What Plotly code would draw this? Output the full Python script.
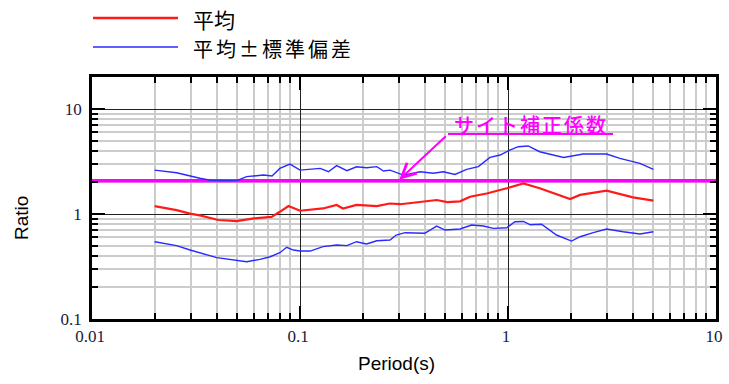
import math
import plotly.graph_objects as go

# ---- data ----
mean_period = [0.02, 0.0255, 0.0296, 0.033, 0.0405, 0.0496, 0.06, 0.073, 0.080, 0.088,
               0.1, 0.115, 0.129, 0.15, 0.161, 0.187, 0.234, 0.27, 0.303, 0.351,
               0.454, 0.51, 0.588, 0.657, 0.79, 0.986, 1.186, 1.42, 1.99, 2.22,
               2.98, 3.99, 5.0]
mean_ratio = [1.19, 1.09, 1.01, 0.97, 0.877, 0.857, 0.91, 0.94, 1.05, 1.19,
              1.075, 1.1, 1.13, 1.22, 1.13, 1.22, 1.19, 1.26, 1.24, 1.28,
              1.36, 1.30, 1.32, 1.46, 1.57, 1.76, 1.96, 1.76, 1.39, 1.52,
              1.67, 1.44, 1.34]

upper_period = [0.02, 0.0255, 0.033, 0.037, 0.045, 0.05, 0.0554, 0.0667, 0.0734, 0.080,
                0.0895, 0.1, 0.125, 0.137, 0.15, 0.168, 0.187, 0.209, 0.234, 0.252,
                0.271, 0.314, 0.378, 0.437, 0.489, 0.556, 0.633, 0.72, 0.819, 0.916,
                1.02, 1.12, 1.25, 1.42, 1.85, 2.3, 2.98, 3.45, 4.31, 5.0]
upper_ratio = [2.62, 2.47, 2.19, 2.1, 2.08, 2.09, 2.27, 2.35, 2.30, 2.72,
               2.99, 2.62, 2.72, 2.53, 2.89, 2.59, 2.82, 2.76, 2.83, 2.57,
               2.62, 2.35, 2.53, 2.45, 2.53, 2.38, 2.66, 2.83, 3.46, 3.65,
               4.07, 4.38, 4.45, 3.92, 3.46, 3.73, 3.73, 3.39, 3.04, 2.66]

lower_period = [0.02, 0.0255, 0.0296, 0.0398, 0.0554, 0.0642, 0.0719, 0.080, 0.0863, 0.093,
                0.1, 0.112, 0.129, 0.15, 0.168, 0.187, 0.209, 0.234, 0.271, 0.29,
                0.32, 0.398, 0.454, 0.498, 0.588, 0.669, 0.761, 0.85, 0.986, 1.08,
                1.186, 1.28, 1.45, 1.71, 2.02, 2.22, 2.57, 2.98, 3.58, 4.31, 5.0]
lower_ratio = [0.545, 0.50, 0.454, 0.384, 0.351, 0.37, 0.392, 0.428, 0.482, 0.454,
               0.444, 0.444, 0.489, 0.507, 0.50, 0.545, 0.518, 0.557, 0.565, 0.631,
               0.664, 0.655, 0.768, 0.704, 0.72, 0.786, 0.768, 0.73, 0.74, 0.845,
               0.85, 0.79, 0.80, 0.631, 0.553, 0.608, 0.664, 0.72, 0.678, 0.645, 0.678]

site_factor = 2.07
site_range = [0.01, 10]

x_tick_vals = [0.01, 0.1, 1, 10]
x_tick_text = ["0.01", "0.1", "1", "10"]
y_tick_vals = [0.1, 1, 10]
y_tick_text = ["0.1", "1", "10"]

legend_mean = "平均"
legend_sd = "平均±標準偏差"
site_label = "サイト補正係数"

# ---- styling ----
RED = "#ff1a1a"
BLUE = "#2a2aff"
MAG = "#ff00ff"
TICKFONT = dict(family="Liberation Serif, Times New Roman, serif", size=17, color="#1a1a3a")
CJK = "Noto Sans CJK JP, Noto Sans, sans-serif"

# figure fills the window exactly (page body margin removed in post_script)
W, H = 729, 384
L, T, R, B = 92, 77, 729 - 716, 384 - 319
PW, PH = W - L - R, H - T - B


def px(xp):   # window x pixel -> paper x
    return (xp - L) / PW


def py(yp):   # window y pixel -> paper y
    return (H - B - yp) / PH


minor_x = [m * 10 ** e for e in range(-2, 1) for m in range(2, 10)]
minor_y = [m * 10 ** e for e in range(-1, 2) for m in range(2, 10) if m * 10 ** e < 20.2]

fig = go.Figure()
fig.add_trace(go.Scatter(x=site_range, y=[site_factor, site_factor], mode="lines",
                         line=dict(color=MAG, width=3.5), showlegend=False, hoverinfo="skip"))
fig.add_trace(go.Scatter(x=upper_period, y=upper_ratio, mode="lines",
                         line=dict(color=BLUE, width=1.4), showlegend=False))
fig.add_trace(go.Scatter(x=lower_period, y=lower_ratio, mode="lines",
                         line=dict(color=BLUE, width=1.4), showlegend=False))
fig.add_trace(go.Scatter(x=mean_period, y=mean_ratio, mode="lines",
                         line=dict(color=RED, width=2.2), showlegend=False))

axis_common = dict(
    type="log", ticks="inside", ticklen=13, tickwidth=2, tickcolor="black",
    showline=True, linewidth=2.5, linecolor="black", mirror="ticks",
    showgrid=True, gridcolor="#222222", gridwidth=1.2, zeroline=False,
    tickfont=TICKFONT, automargin=False,
)
fig.update_xaxes(**axis_common, range=[-2, 1], tickvals=x_tick_vals, ticktext=x_tick_text,
                 ticklabelshift=-2,
                 minor=dict(tickvals=minor_x, ticks="inside", ticklen=6, tickwidth=2,
                            tickcolor="black", showgrid=True, gridcolor="#cccccc", gridwidth=1.5))
fig.update_yaxes(**axis_common, range=[-1, math.log10(20.2)], tickvals=y_tick_vals,
                 ticktext=y_tick_text, ticklabelstandoff=4,
                 minor=dict(tickvals=minor_y, ticks="inside", ticklen=6, tickwidth=2,
                            tickcolor="black", showgrid=True, gridcolor="#cccccc", gridwidth=1.5))

# manual legend
fig.add_shape(type="line", xref="paper", yref="paper", x0=px(93), x1=px(178), y0=py(18), y1=py(18),
              line=dict(color=RED, width=2.5))
fig.add_shape(type="line", xref="paper", yref="paper", x0=px(93), x1=px(178), y0=py(47), y1=py(47),
              line=dict(color=BLUE, width=1.5))
fig.add_annotation(xref="paper", yref="paper", x=px(191), y=py(19),
                   text=legend_mean, showarrow=False,
                   xanchor="left", yanchor="middle", font=dict(family=CJK, size=21, color="black"))
fig.add_annotation(xref="paper", yref="paper", x=px(191), y=py(48),
                   text=f'<span style="letter-spacing:3px">{legend_sd}</span>', showarrow=False,
                   xanchor="left", yanchor="middle", font=dict(family=CJK, size=20, color="black"))

# axis titles
fig.add_annotation(xref="paper", yref="paper", x=px(21), y=py(218), text="Ratio", textangle=-90,
                   showarrow=False, xanchor="center", yanchor="middle",
                   font=dict(family="Liberation Sans, Arial, sans-serif", size=19, color="black"))
fig.add_annotation(xref="paper", yref="paper", x=px(396), y=py(363), text="Period(s)",
                   showarrow=False, xanchor="center", yanchor="middle",
                   font=dict(family="Liberation Sans, Arial, sans-serif", size=19, color="black"))

# site factor label, underline and arrow
fig.add_annotation(xref="paper", yref="paper", x=px(531), y=py(124),
                   text=f'<span style="letter-spacing:2px">{site_label}</span>', showarrow=False,
                   xanchor="center", yanchor="middle",
                   font=dict(family=CJK, size=20, color=MAG, weight=500))
fig.add_shape(type="line", xref="paper", yref="paper", x0=px(448), x1=px(613), y0=py(134), y1=py(134),
              line=dict(color=MAG, width=2))
fig.add_annotation(x=math.log10(0.3), y=math.log10(2.12), xref="x", yref="y", text="",
                   showarrow=True, ax=48, ay=-45, arrowhead=5, arrowsize=1.4, arrowwidth=2,
                   arrowcolor=MAG)

fig.update_layout(width=W, height=H, autosize=False,
                  margin=dict(l=L, r=R, t=T, b=B),
                  paper_bgcolor="white", plot_bgcolor="white", showlegend=False)

fig.write_html("out.html", config={"displayModeBar": False},
               post_script="document.body.style.margin='0';document.body.style.overflow='hidden';")
